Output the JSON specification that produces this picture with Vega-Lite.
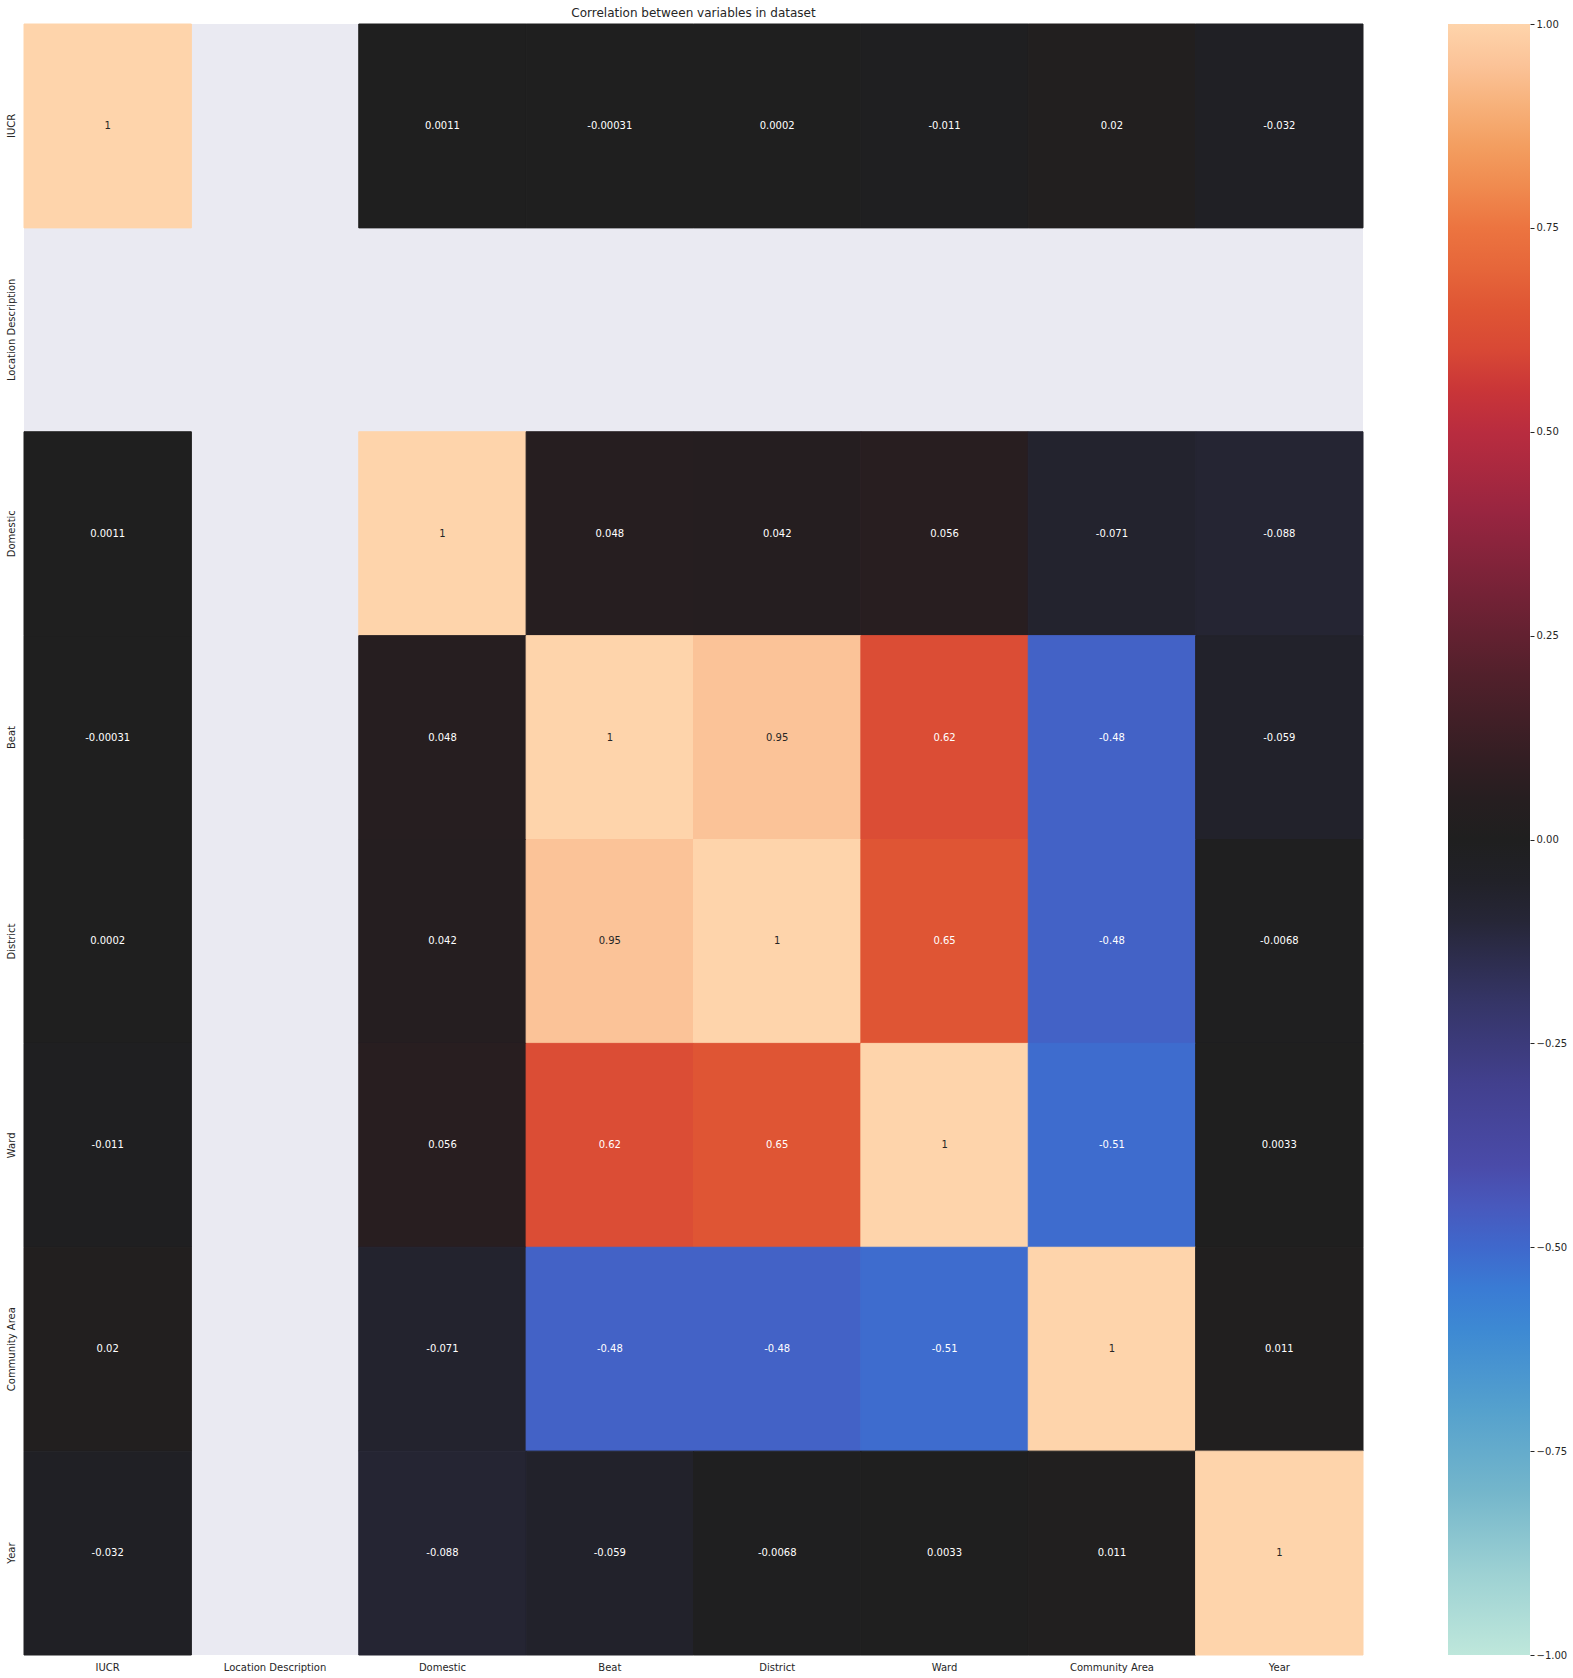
{
  "$schema": "https://vega.github.io/schema/vega-lite/v6.json",
  "background": "white",
  "padding": {"left": 6, "top": 6, "right": 5, "bottom": 5},
  "spacing": 84,
  "config": {
    "font": "DejaVu Sans",
    "view": {"stroke": null},
    "locale": {"number": {"decimal": ".", "thousands": ",", "grouping": [3], "currency": ["$", ""], "minus": "-"}}
  },
  "datasets": {
    "corr": [
      {"row": "IUCR", "col": "IUCR", "r": 1},
      {"row": "IUCR", "col": "Domestic", "r": 0.0011},
      {"row": "IUCR", "col": "Beat", "r": -0.00031},
      {"row": "IUCR", "col": "District", "r": 0.0002},
      {"row": "IUCR", "col": "Ward", "r": -0.011},
      {"row": "IUCR", "col": "Community Area", "r": 0.02},
      {"row": "IUCR", "col": "Year", "r": -0.032},
      {"row": "Domestic", "col": "IUCR", "r": 0.0011},
      {"row": "Domestic", "col": "Domestic", "r": 1},
      {"row": "Domestic", "col": "Beat", "r": 0.048},
      {"row": "Domestic", "col": "District", "r": 0.042},
      {"row": "Domestic", "col": "Ward", "r": 0.056},
      {"row": "Domestic", "col": "Community Area", "r": -0.071},
      {"row": "Domestic", "col": "Year", "r": -0.088},
      {"row": "Beat", "col": "IUCR", "r": -0.00031},
      {"row": "Beat", "col": "Domestic", "r": 0.048},
      {"row": "Beat", "col": "Beat", "r": 1},
      {"row": "Beat", "col": "District", "r": 0.95},
      {"row": "Beat", "col": "Ward", "r": 0.62},
      {"row": "Beat", "col": "Community Area", "r": -0.48},
      {"row": "Beat", "col": "Year", "r": -0.059},
      {"row": "District", "col": "IUCR", "r": 0.0002},
      {"row": "District", "col": "Domestic", "r": 0.042},
      {"row": "District", "col": "Beat", "r": 0.95},
      {"row": "District", "col": "District", "r": 1},
      {"row": "District", "col": "Ward", "r": 0.65},
      {"row": "District", "col": "Community Area", "r": -0.48},
      {"row": "District", "col": "Year", "r": -0.0068},
      {"row": "Ward", "col": "IUCR", "r": -0.011},
      {"row": "Ward", "col": "Domestic", "r": 0.056},
      {"row": "Ward", "col": "Beat", "r": 0.62},
      {"row": "Ward", "col": "District", "r": 0.65},
      {"row": "Ward", "col": "Ward", "r": 1},
      {"row": "Ward", "col": "Community Area", "r": -0.51},
      {"row": "Ward", "col": "Year", "r": 0.0033},
      {"row": "Community Area", "col": "IUCR", "r": 0.02},
      {"row": "Community Area", "col": "Domestic", "r": -0.071},
      {"row": "Community Area", "col": "Beat", "r": -0.48},
      {"row": "Community Area", "col": "District", "r": -0.48},
      {"row": "Community Area", "col": "Ward", "r": -0.51},
      {"row": "Community Area", "col": "Community Area", "r": 1},
      {"row": "Community Area", "col": "Year", "r": 0.011},
      {"row": "Year", "col": "IUCR", "r": -0.032},
      {"row": "Year", "col": "Domestic", "r": -0.088},
      {"row": "Year", "col": "Beat", "r": -0.059},
      {"row": "Year", "col": "District", "r": -0.0068},
      {"row": "Year", "col": "Ward", "r": 0.0033},
      {"row": "Year", "col": "Community Area", "r": 0.011},
      {"row": "Year", "col": "Year", "r": 1}
    ],
    "bar": [{"lo": -1, "hi": 1}]
  },
  "hconcat": [
    {
      "title": {"text": "Correlation between variables in dataset", "fontSize": 12, "font": "DejaVu Sans", "fontWeight": "normal", "color": "#262626", "offset": 4, "anchor": "middle"},
      "width": 1339,
      "height": 1631,
      "view": {"fill": "#EAEAF2", "stroke": null},
      "data": {"name": "corr"},
      "encoding": {
        "x": {
          "field": "col", "type": "nominal",
          "scale": {"domain": ["IUCR", "Location Description", "Domestic", "Beat", "District", "Ward", "Community Area", "Year"], "paddingInner": 0, "paddingOuter": 0},
          "axis": {"title": null, "labelAngle": 0, "ticks": false, "domain": false, "grid": false, "labelPadding": 7, "labelFontSize": 10, "labelColor": "#262626", "labelFont": "DejaVu Sans"}
        },
        "y": {
          "field": "row", "type": "nominal",
          "scale": {"domain": ["IUCR", "Location Description", "Domestic", "Beat", "District", "Ward", "Community Area", "Year"], "paddingInner": 0, "paddingOuter": 0},
          "axis": {"title": null, "labelAngle": 270, "labelAlign": "center", "labelBaseline": "bottom", "ticks": false, "domain": false, "grid": false, "labelPadding": 8, "labelFontSize": 10, "labelColor": "#262626", "labelFont": "DejaVu Sans"}
        }
      },
      "layer": [
        {
          "mark": {"type": "rect", "strokeWidth": 1},
          "encoding": {
            "color": {
              "field": "r", "type": "quantitative", "legend": null,
              "scale": {
                "domain": [-1, -0.9, -0.8, -0.7, -0.6, -0.55, -0.5, -0.45, -0.4, -0.3, -0.2, -0.1, -0.05, 0, 0.05, 0.1, 0.2, 0.3, 0.4, 0.5, 0.55, 0.6, 0.65, 0.7, 0.75, 0.8, 0.85, 0.9, 0.95, 1],
                "range": ["#bee7db", "#9dd1d3", "#74b6cb", "#55a1cd", "#3d89d3", "#3a7bd4", "#3f68cc", "#4859bd", "#4a4ba9", "#42408e", "#353567", "#262637", "#212128", "#1f1f1f", "#261e20", "#331e23", "#51202b", "#742236", "#982540", "#b92c3f", "#c93538", "#d84835", "#df5534", "#e6663a", "#ec7440", "#f08a4f", "#f39e60", "#f7b17a", "#fbc398", "#fed4ab"],
                "interpolate": "rgb",
                "clamp": true
              }
            },
            "stroke": {
              "field": "r", "type": "quantitative", "legend": null,
              "scale": {
                "domain": [-1, -0.9, -0.8, -0.7, -0.6, -0.55, -0.5, -0.45, -0.4, -0.3, -0.2, -0.1, -0.05, 0, 0.05, 0.1, 0.2, 0.3, 0.4, 0.5, 0.55, 0.6, 0.65, 0.7, 0.75, 0.8, 0.85, 0.9, 0.95, 1],
                "range": ["#bee7db", "#9dd1d3", "#74b6cb", "#55a1cd", "#3d89d3", "#3a7bd4", "#3f68cc", "#4859bd", "#4a4ba9", "#42408e", "#353567", "#262637", "#212128", "#1f1f1f", "#261e20", "#331e23", "#51202b", "#742236", "#982540", "#b92c3f", "#c93538", "#d84835", "#df5534", "#e6663a", "#ec7440", "#f08a4f", "#f39e60", "#f7b17a", "#fbc398", "#fed4ab"],
                "interpolate": "rgb",
                "clamp": true
              }
            }
          }
        },
        {
          "mark": {"type": "text", "fontSize": 10, "font": "DejaVu Sans"},
          "encoding": {
            "text": {"field": "r", "type": "quantitative", "format": ".2~g"},
            "color": {"condition": {"test": "datum.r > 0.9", "value": "#262626"}, "value": "#ffffff"}
          }
        }
      ]
    },
    {
      "width": 82,
      "height": 1631,
      "view": {"stroke": null},
      "data": {"name": "bar"},
      "mark": {
        "type": "rect",
        "fill": {
          "gradient": "linear", "x1": 0, "y1": 1, "x2": 0, "y2": 0,
          "stops": [
            {"offset": 0, "color": "#bee7db"},
            {"offset": 0.05, "color": "#9dd1d3"},
            {"offset": 0.1, "color": "#74b6cb"},
            {"offset": 0.15, "color": "#55a1cd"},
            {"offset": 0.2, "color": "#3d89d3"},
            {"offset": 0.225, "color": "#3a7bd4"},
            {"offset": 0.25, "color": "#3f68cc"},
            {"offset": 0.275, "color": "#4859bd"},
            {"offset": 0.3, "color": "#4a4ba9"},
            {"offset": 0.35, "color": "#42408e"},
            {"offset": 0.4, "color": "#353567"},
            {"offset": 0.45, "color": "#262637"},
            {"offset": 0.475, "color": "#212128"},
            {"offset": 0.5, "color": "#1f1f1f"},
            {"offset": 0.525, "color": "#261e20"},
            {"offset": 0.55, "color": "#331e23"},
            {"offset": 0.6, "color": "#51202b"},
            {"offset": 0.65, "color": "#742236"},
            {"offset": 0.7, "color": "#982540"},
            {"offset": 0.75, "color": "#b92c3f"},
            {"offset": 0.775, "color": "#c93538"},
            {"offset": 0.8, "color": "#d84835"},
            {"offset": 0.825, "color": "#df5534"},
            {"offset": 0.85, "color": "#e6663a"},
            {"offset": 0.875, "color": "#ec7440"},
            {"offset": 0.9, "color": "#f08a4f"},
            {"offset": 0.925, "color": "#f39e60"},
            {"offset": 0.95, "color": "#f7b17a"},
            {"offset": 0.975, "color": "#fbc398"},
            {"offset": 1, "color": "#fed4ab"}
          ]
        }
      },
      "encoding": {
        "y": {
          "field": "lo", "type": "quantitative",
          "scale": {"domain": [-1, 1], "nice": false, "zero": false},
          "axis": {
            "title": null, "orient": "right", "domain": false, "grid": false,
            "values": [-1, -0.75, -0.5, -0.25, 0, 0.25, 0.5, 0.75, 1],
            "labelExpr": "replace(format(datum.value, '.2f'), '-', '\u2212')",
            "tickSize": 4, "tickColor": "#262626", "tickWidth": 1,
            "labelPadding": 2, "labelFontSize": 10, "labelColor": "#262626", "labelFont": "DejaVu Sans",
            "labelFlush": false, "labelBaseline": "middle"
          }
        },
        "y2": {"field": "hi"}
      }
    }
  ]
}
